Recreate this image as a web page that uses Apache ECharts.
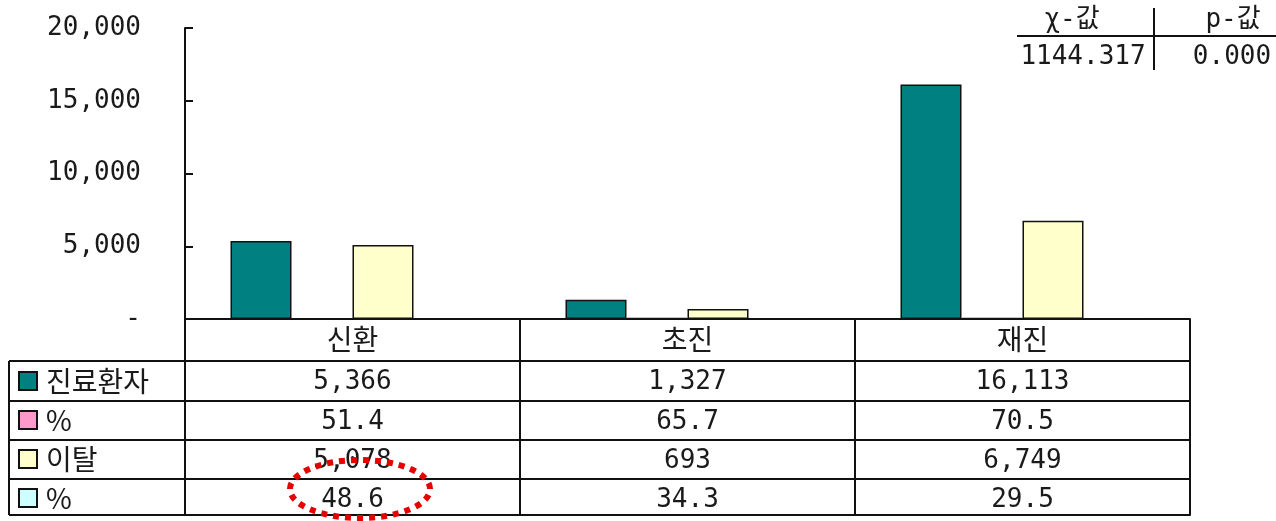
<!DOCTYPE html>
<html>
<head>
<meta charset="utf-8">
<script src="https://cdn.jsdelivr.net/npm/echarts@6/dist/echarts.min.js"></script>
<style>html,body{margin:0;padding:0;background:#fff}#c{width:1276px;height:521px}</style>
</head>
<body>
<div id="c"></div>
<script>
// ---- data ----
var categories = ['신환', '초진', '재진'];
var patients = [5366, 1327, 16113];
var patientsPct = [51.4, 65.7, 70.5];
var dropout = [5078, 693, 6749];
var dropoutPct = [48.6, 34.3, 29.5];
var seriesNames = ['진료환자', '%', '이탈', '%'];
var yTicks = [0, 5000, 10000, 15000, 20000];
var statHeaders = ['χ-값', 'p-값'];
var statValues = ['1144.317', '0.000'];

// ---- layout / style ----
var FONT = "'DejaVu Sans Mono', 'Noto Sans CJK KR', monospace";
var KFONT = "'Noto Sans CJK KR', 'DejaVu Sans Mono', sans-serif";
var FS = 26;
var KFS = 28;
var TXT = '#1a1a1a';
var colors = ['#008080', '#FF99CC', '#FFFFCC', '#CCFFFF'];
var gridLeft = 185, gridRight = 86, gridTop = 28, gridBottom = 202;
var baseY = 521 - gridBottom; // 319
var rowOffsets = [42, 82, 121, 160, 196];
var leftColX = 9;

function fmtInt(v) { return v.toLocaleString('en-US'); }
function fmtPct(v) { return v.toFixed(1); }

var rowData = [patients.map(fmtInt), patientsPct.map(fmtPct), dropout.map(fmtInt), dropoutPct.map(fmtPct)];
var seriesData = [patients, patientsPct, dropout, dropoutPct];
// unique keys for legend (two series share the label "%")
var seriesKeys = seriesNames.map(function (n, i) { return n + (i === 3 ? ' ' : ''); });

var xAxes = [{
  type: 'category', gridIndex: 0, data: categories, position: 'bottom', offset: 0,
  axisLine: { lineStyle: { color: '#111', width: 2 } },
  axisTick: { show: true, length: rowOffsets[0], lineStyle: { color: '#111', width: 2 } },
  axisLabel: { margin: 6, fontFamily: KFONT, fontSize: KFS, color: TXT }
}];
for (var r = 0; r < rowData.length; r++) {
  xAxes.push({
    type: 'category', gridIndex: 0, data: rowData[r], position: 'bottom', offset: rowOffsets[r],
    axisLine: { lineStyle: { color: '#111', width: 2 } },
    axisTick: { show: true, length: rowOffsets[r + 1] - rowOffsets[r], lineStyle: { color: '#111', width: 2 } },
    axisLabel: { margin: 8, fontFamily: FONT, fontSize: FS, color: TXT, interval: 0 }
  });
}
xAxes.push({
  type: 'category', gridIndex: 0, data: categories, position: 'bottom', offset: rowOffsets[4],
  axisLine: { lineStyle: { color: '#111', width: 2 } },
  axisTick: { show: false }, axisLabel: { show: false }
});

var series = seriesData.map(function (d, i) {
  return {
    name: seriesKeys[i], type: 'bar', xAxisIndex: 0, data: d,
    barWidth: 61, barGap: '0%',
    itemStyle: { color: colors[i], borderColor: '#111', borderWidth: 1.5 }
  };
});

// graphic: left column of the data table, stats box, dotted ellipse
var graphics = [];
var rowYs = rowOffsets.map(function (o) { return baseY + o; });
rowYs.forEach(function (y) {
  graphics.push({ type: 'line', shape: { x1: leftColX, y1: y, x2: gridLeft, y2: y }, style: { stroke: '#111', lineWidth: 2 } });
});
graphics.push({ type: 'line', shape: { x1: leftColX, y1: rowYs[0], x2: leftColX, y2: rowYs[4] }, style: { stroke: '#111', lineWidth: 2 } });

// stats box
graphics.push({ type: 'line', shape: { x1: 1017, y1: 36, x2: 1276, y2: 36 }, style: { stroke: '#111', lineWidth: 2 } });
graphics.push({ type: 'line', shape: { x1: 1154, y1: 8, x2: 1154, y2: 70 }, style: { stroke: '#111', lineWidth: 2 } });
var statX = [1072, 1233];
var valX = [1083, 1232];
statHeaders.forEach(function (t, i) {
  graphics.push({ type: 'text', x: statX[i], y: 20, style: { text: t, fontFamily: FONT, fontSize: FS, fill: TXT, align: 'center', verticalAlign: 'middle' } });
});
statValues.forEach(function (t, i) {
  graphics.push({ type: 'text', x: valX[i], y: 57, style: { text: t, fontFamily: FONT, fontSize: FS, fill: TXT, align: 'center', verticalAlign: 'middle' } });
});
// red dotted ellipse
graphics.push({ type: 'ellipse', shape: { cx: 360, cy: 489, rx: 70, ry: 29 }, style: { fill: 'none', stroke: '#e60000', lineWidth: 6, lineDash: [6, 6] }, z: 100 });

var chart = echarts.init(document.getElementById('c'), null, { renderer: 'canvas' });
chart.setOption({
  animation: false,
  backgroundColor: '#fff',
  grid: { left: gridLeft, right: gridRight, top: gridTop, bottom: gridBottom, containLabel: false },
  legend: {
    data: seriesKeys, orient: 'vertical', left: 18, top: 367, bottom: 0, padding: 0, itemGap: 11,
    icon: 'rect', itemWidth: 18, itemHeight: 18, selectedMode: false,
    formatter: function (n) { return n.trim(); },
    textStyle: { fontFamily: KFONT, fontSize: KFS, color: TXT, padding: [0, 0, 0, 4] }
  },
  xAxis: xAxes,
  yAxis: {
    type: 'value', min: yTicks[0], max: yTicks[yTicks.length - 1], interval: yTicks[1] - yTicks[0],
    axisLine: { show: true, lineStyle: { color: '#111', width: 2 } },
    axisTick: { show: true, inside: true, length: 8, lineStyle: { color: '#111', width: 2 } },
    splitLine: { show: false },
    axisLabel: { margin: 44, fontFamily: FONT, fontSize: FS, color: TXT,
      formatter: function (v) { return v === 0 ? '-' : fmtInt(v); } }
  },
  series: series,
  graphic: graphics
});
</script>
</body>
</html>
